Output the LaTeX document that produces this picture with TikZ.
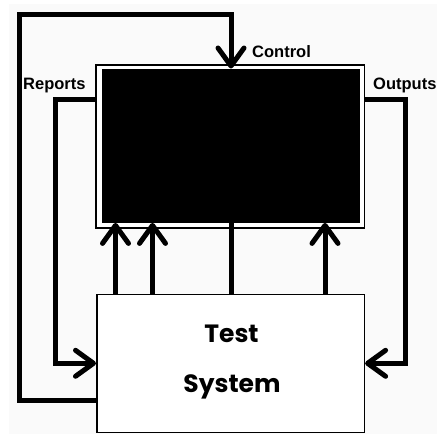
\documentclass[tikz,border=0pt]{standalone}
\usepackage{fontspec}
\setmainfont{Liberation Sans}
\newfontfamily\gothic{Poppins}
\usetikzlibrary{arrows.meta}

\tikzset{
  wire/.style={line width=5pt, line join=miter},
  barb/.style={wire, -{Straight Barb[length=18pt, width=26pt, round]}},
  thinbox/.style={draw=black, line width=1.6pt, inner sep=0pt, anchor=north west},
  tag/.style={font=\bfseries\fontsize{16.5}{18}\selectfont, inner sep=0pt, anchor=base west},
  bigtxt/.style={font=\gothic\bfseries\fontsize{25}{28}\selectfont, inner sep=0pt, anchor=base},
}

\begin{document}
\begin{tikzpicture}[x=1pt, y=-1pt]
  % canvas
  \useasboundingbox (0,0) rectangle (437,434);
  \fill[white] (0,0) rectangle (437,434);
  \fill[black!2] (9,4) rectangle (437,434);

  % black-box unit with its thin double frame
  \node[thinbox, fill=white, minimum width=268.5pt, minimum height=163pt] (frame) at (95,64) {};
  \node[fill=black, inner sep=0pt, anchor=north west, minimum width=257.5pt, minimum height=154pt] (core) at (102,68.5) {};

  % test system
  \node[thinbox, fill=white, minimum width=267.5pt, minimum height=138pt] (test) at (96,293.5) {};
  \node[bigtxt] (ttest) at (231.5,342) {Test};
  \node[bigtxt] (tsys) at (232,392) {System};

  % labels
  \node[tag] (lctrl) at (252,57) {Control};
  \node[tag] (lrep) at (23,89) {Reports};
  \node[tag] (lout) at (373,89) {Outputs};

  % helper coordinates for the feedback routes
  \coordinate (cbot) at (0,400);
  \coordinate (ctop) at (19,14);
  \coordinate (cx) at (231,0);
  \coordinate (ry) at (0,99);
  \coordinate (rx) at (55,0);
  \coordinate (ox) at (405.5,0);

  % control loop
  \draw[barb] (test.west |- cbot) -- (ctop |- cbot) -- (ctop) -- (cx |- ctop) -- (cx |- core.north);

  % reports and outputs
  \draw[barb] (frame.west |- ry) -- (rx |- ry) -- (rx |- test.west) -- (test.west);
  \draw[barb] (frame.east |- ry) -- (ox |- ry) -- (ox |- test.east) -- (test.east);

  % inputs from the test system
  \coordinate (a1) at (115.5,0);
  \coordinate (a2) at (152.5,0);
  \coordinate (a3) at (231,0);
  \coordinate (a4) at (325,0);
  \draw[barb] (a1 |- test.north) -- (a1 |- core.south);
  \draw[barb] (a2 |- test.north) -- (a2 |- core.south);
  \draw[wire] (a3 |- test.north) -- (a3 |- core.south);
  \draw[barb] (a4 |- test.north) -- (a4 |- core.south);
\end{tikzpicture}
\end{document}
